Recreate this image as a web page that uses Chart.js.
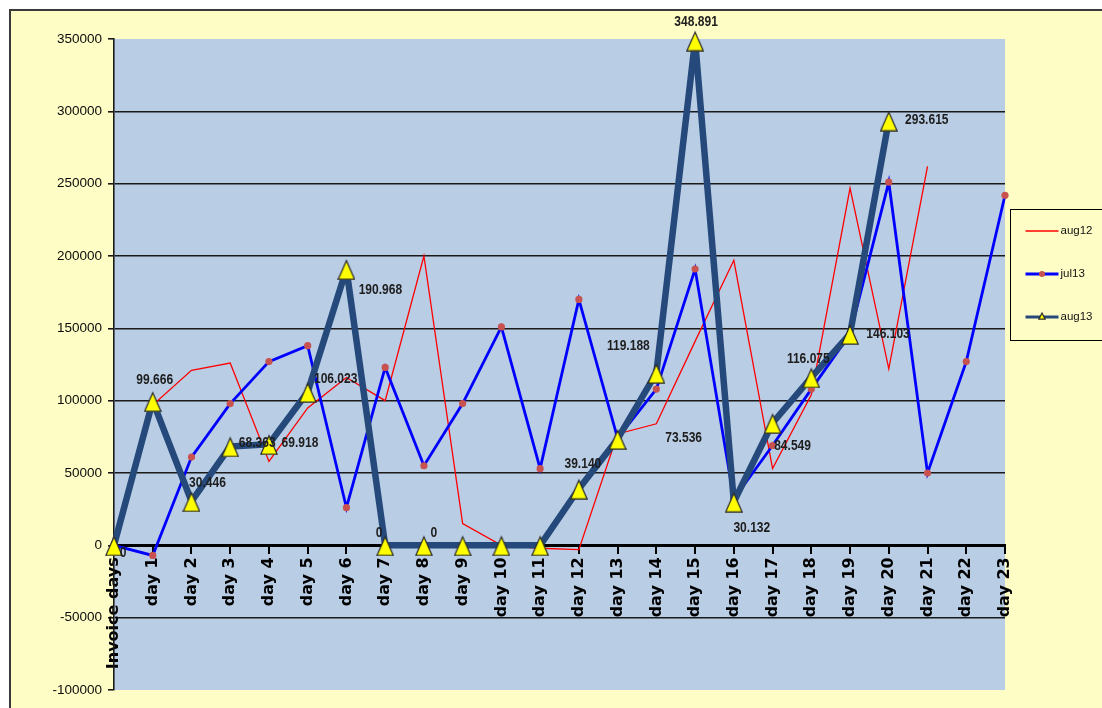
<!DOCTYPE html>
<html>
<head>
<meta charset="utf-8">
<title>Invoice days</title>
<script src="https://cdn.jsdelivr.net/npm/chart.js@4.4.1/dist/chart.umd.min.js"></script>
<style>
  html, body { margin: 0; padding: 0; background: #ffffff; overflow: hidden; }
  canvas { display: block; }
</style>
</head>
<body>
<canvas id="chart" width="1102" height="708"></canvas>
<script>
// Categories along the bottom axis
const categories = [
  "Invoice days", "day 1", "day 2", "day 3", "day 4", "day 5", "day 6", "day 7",
  "day 8", "day 9", "day 10", "day 11", "day 12", "day 13", "day 14", "day 15",
  "day 16", "day 17", "day 18", "day 19", "day 20", "day 21", "day 22", "day 23"
];

// Series values per invoice day
const aug12 = [0, 97000, 121000, 126000, 58000, 95000, 116000, 100000, 200000, 15000,
  0, -2000, -3000, 77000, 84000, 141000, 197000, 53000, 104000, 247000, 122000, 262000];
const jul13 = [0, -7000, 61000, 98000, 127000, 138000, 26000, 123000, 55000, 98000,
  151000, 53000, 170000, 74000, 108000, 191000, 32000, 69000, 108000, 146000, 251000,
  50000, 127000, 242000];
const aug13 = [0, 99666, 30446, 68363, 69918, 106023, 190968, 0, 0, 0, 0, 0, 39140,
  73536, 119188, 348891, 30132, 84549, 116075, 146103, 293615];

// Value axis ticks
const yTickValues = [-100000, -50000, 0, 50000, 100000, 150000, 200000, 250000, 300000, 350000];

// Where each aug13 value label sits relative to its point (dx, dy); null = no label
const aug13LabelOffsets = [
  [9, 8], [2, -21], [16, -18], [27, -3], [31, -1], [28, -13], [34, 21], [-6, -12],
  [10, -12], null, null, null, [4, -25], [66, -1], [-28, -27], [1, -18], [18, 26],
  [20, 23], [-3, -18], [38, 0], [38, 0]
];

// "99666" -> "99.666"
function formatValue(v) {
  return String(v).replace(/\B(?=(\d{3})+(?!\d))/g, '.');
}

// Yellow triangle marker (slightly taller than wide)
function makeTriangle(w, h, pad) {
  const c = document.createElement('canvas');
  c.width = w; c.height = h;
  const g = c.getContext('2d');
  g.beginPath();
  g.moveTo(w / 2, pad);
  g.lineTo(w - 0.8, h - 0.8);
  g.lineTo(0.8, h - 0.8);
  g.closePath();
  g.fillStyle = '#FFFF00';
  g.fill();
  g.lineWidth = 1.2;
  g.strokeStyle = '#2b2b2b';
  g.stroke();
  return c;
}
const triangleMarker = makeTriangle(18, 22, 2.5);
const triangleLegend = makeTriangle(8, 8, 1);

// Page frame, pale yellow chart surface and blue plot area
const chartBackground = {
  id: 'chartBackground',
  beforeDraw(chart) {
    const ctx = chart.ctx;
    const a = chart.chartArea;
    ctx.save();
    ctx.fillStyle = '#ffffff';
    ctx.fillRect(0, 0, chart.width, chart.height);
    ctx.fillStyle = '#FFFDC6';
    ctx.fillRect(10, 10, chart.width - 10, chart.height - 10);
    ctx.strokeStyle = '#3a3a3a';
    ctx.lineWidth = 2;
    ctx.beginPath();
    ctx.moveTo(10, chart.height);
    ctx.lineTo(10, 10);
    ctx.lineTo(chart.width, 10);
    ctx.stroke();
    ctx.fillStyle = '#B9CDE5';
    ctx.fillRect(a.left, a.top, a.right - a.left, a.bottom - a.top);
    ctx.restore();
  }
};

// Value labels on the aug13 series, in a slightly condensed bold face
const valueLabels = {
  id: 'valueLabels',
  afterDatasetsDraw(chart) {
    const meta = chart.getDatasetMeta(2);
    const ctx = chart.ctx;
    meta.data.forEach((pt, i) => {
      const off = aug13LabelOffsets[i];
      if (!off) return;
      ctx.save();
      ctx.translate(pt.x + off[0], pt.y + off[1]);
      ctx.scale(0.86, 1);
      ctx.font = 'bold 14px "Liberation Sans", Arial, sans-serif';
      ctx.fillStyle = '#1e1e1e';
      ctx.textAlign = 'center';
      ctx.textBaseline = 'middle';
      ctx.fillText(formatValue(aug13[i]), 0, 0);
      ctx.restore();
    });
  }
};

// Boxed legend to the right of the plot
const boxedLegend = {
  id: 'boxedLegend',
  afterDraw(chart) {
    const ctx = chart.ctx;
    const a = chart.chartArea;
    const left = Math.round(a.right) + 5.5;
    const top = 209.5;
    ctx.save();
    ctx.strokeStyle = '#000';
    ctx.lineWidth = 1;
    ctx.strokeRect(left, top, 110, 131);
    const widths = [1.5, 3, 3];
    chart.data.datasets.forEach((ds, i) => {
      const y = Math.round(top + 21 + i * 43.3);
      const x0 = left + 15, x1 = left + 48;
      ctx.strokeStyle = ds.borderColor;
      ctx.lineWidth = widths[i];
      ctx.beginPath();
      ctx.moveTo(x0, y);
      ctx.lineTo(x1, y);
      ctx.stroke();
      const cx = (x0 + x1) / 2;
      if (i === 1) {
        ctx.fillStyle = ds.pointBackgroundColor;
        ctx.beginPath();
        ctx.arc(cx, y, 3, 0, Math.PI * 2);
        ctx.fill();
      } else if (i === 2) {
        ctx.drawImage(triangleLegend, cx - 4, y - 5);
      }
      ctx.fillStyle = '#111';
      ctx.font = '11.5px "Liberation Sans", Arial, sans-serif';
      ctx.textAlign = 'left';
      ctx.textBaseline = 'middle';
      ctx.fillText(ds.label, x1 + 2, y);
    });
    ctx.restore();
  }
};

new Chart(document.getElementById('chart'), {
  type: 'line',
  data: {
    labels: categories,
    datasets: [
      {
        label: 'aug12',
        data: aug12,
        borderColor: '#FF0000',
        borderWidth: 1.3,
        pointRadius: 0,
        tension: 0,
        order: 3,
        clip: false
      },
      {
        label: 'jul13',
        data: jul13,
        borderColor: '#0000FF',
        borderWidth: 2.8,
        pointRadius: 3.6,
        pointBackgroundColor: '#C8524F',
        pointBorderWidth: 0,
        tension: 0,
        order: 2,
        clip: false
      },
      {
        label: 'aug13',
        data: aug13,
        borderColor: '#24497A',
        borderWidth: 6.5,
        borderJoinStyle: 'round',
        pointStyle: triangleMarker,
        pointRadius: 10,
        tension: 0,
        order: 1,
        clip: false
      }
    ]
  },
  options: {
    responsive: false,
    animation: false,
    events: [],
    layout: { padding: { top: 39, bottom: 18, left: 0, right: 97 } },
    plugins: {
      legend: { display: false },
      tooltip: { enabled: false }
    },
    scales: {
      x: {
        type: 'category',
        position: { y: 0 },
        offset: false,
        ticks: {
          autoSkip: false,
          minRotation: 90,
          maxRotation: 90,
          padding: 5,
          color: '#000',
          font: { family: '"DejaVu Sans", sans-serif', weight: 'bold', size: 16 }
        },
        grid: { drawOnChartArea: false, tickLength: 7, tickColor: '#000', lineWidth: 2 },
        border: { color: '#000', width: 3 },
        afterFit(scale) { scale.height = 0; }
      },
      y: {
        min: -100000,
        max: 350000,
        afterBuildTicks(scale) { scale.ticks = yTickValues.map(v => ({ value: v })); },
        ticks: {
          padding: 6,
          color: '#0a0a0a',
          font: { family: '"Liberation Sans", Arial, sans-serif', size: 13.5 },
          callback: v => String(v)
        },
        grid: {
          color: c => (c.tick && (c.tick.value === 350000 || c.tick.value === -100000)) ? 'rgba(0,0,0,0)' : '#1a1a1a',
          lineWidth: 1.6,
          tickLength: 6,
          tickColor: '#1a1a1a'
        },
        border: { color: '#1a1a1a', width: 1.6 },
        afterFit(scale) { scale.width = 114; }
      }
    }
  },
  plugins: [chartBackground, valueLabels, boxedLegend]
});
</script>
</body>
</html>
